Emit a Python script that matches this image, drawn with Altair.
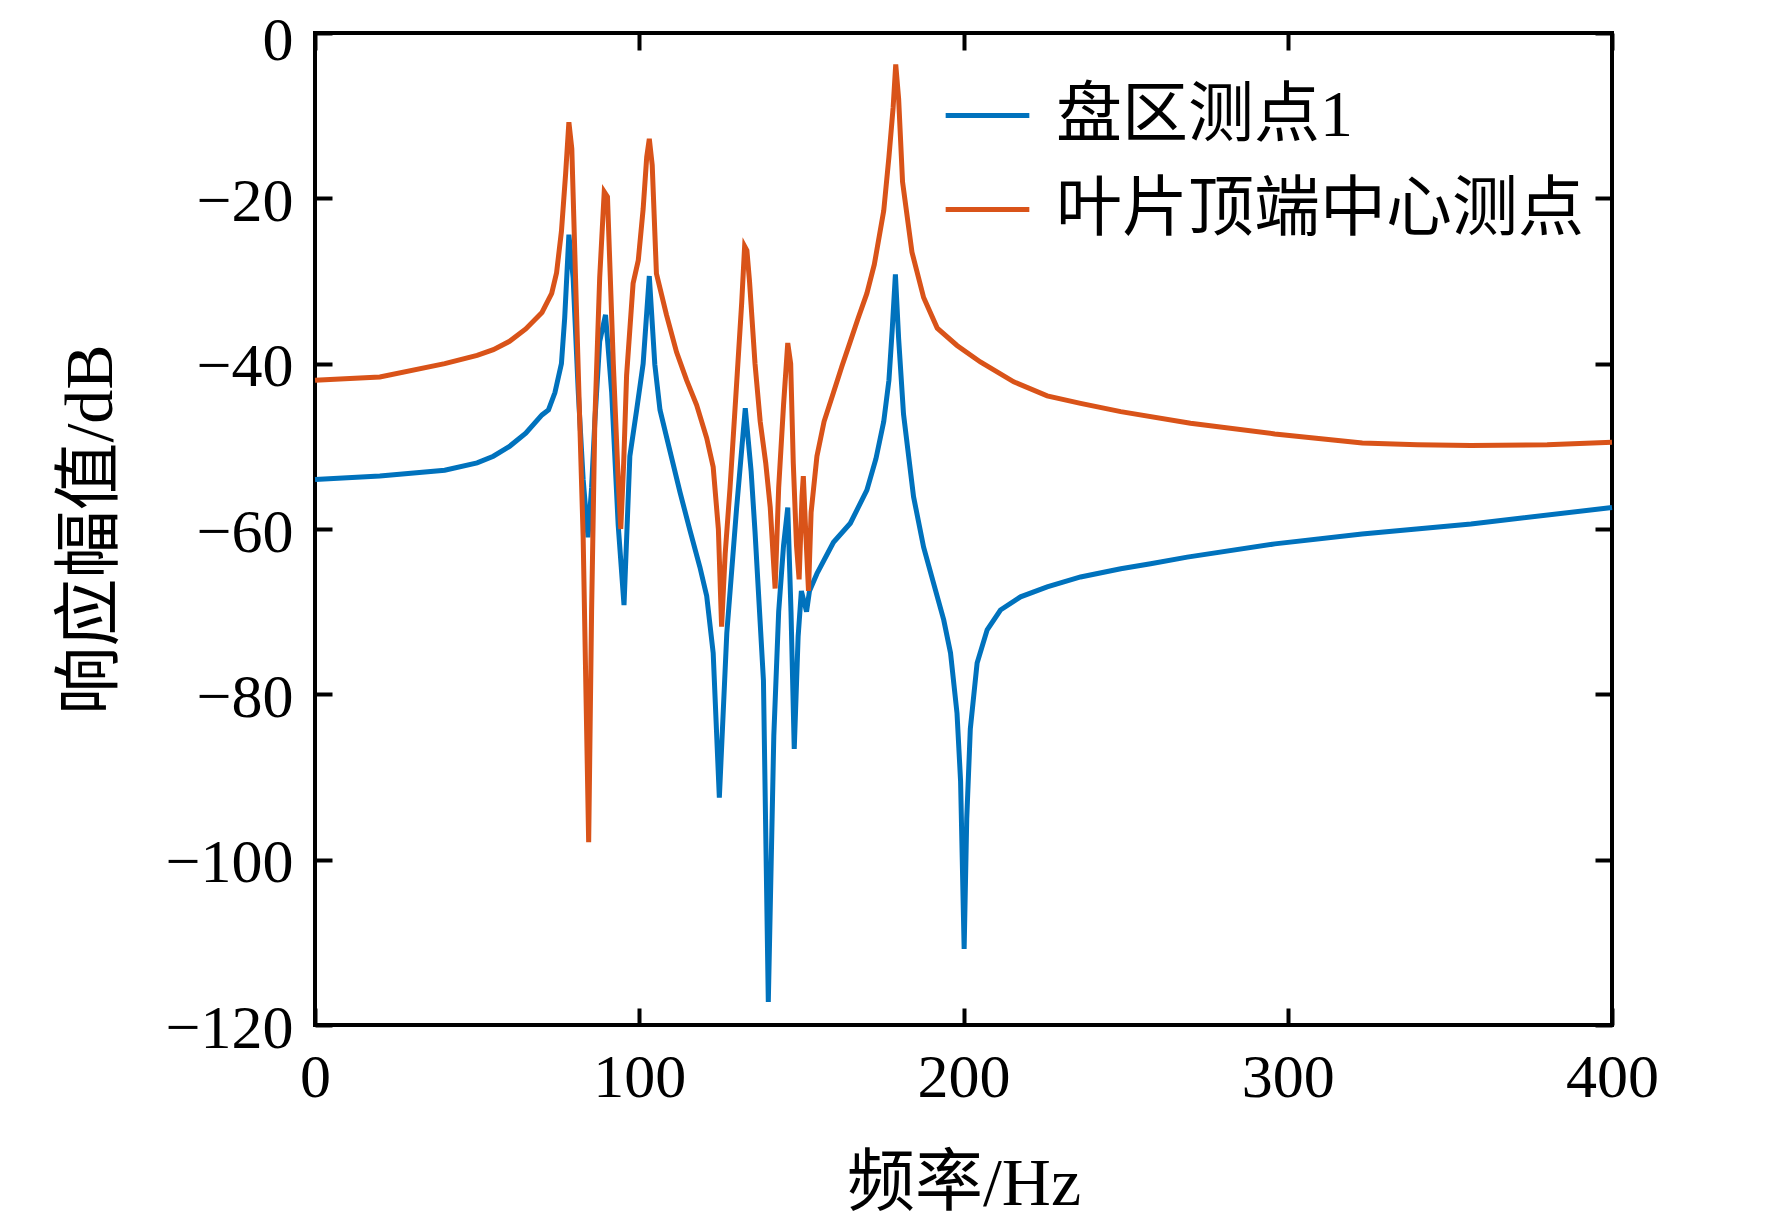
import pandas as pd
import altair as alt

FONT = "Liberation Serif, Noto Sans CJK SC"

disc_name = "盘区测点1"
tip_name = "叶片顶端中心测点"

# 叶片顶端中心测点 (orange)
tip_hz = [0, 20, 40, 50, 55, 60, 65, 70, 73, 74.5, 76, 77.3, 78.3, 79.2, 80.6,
          82.7, 84.4, 85.3, 86.3, 87.8, 89.2, 90.2, 92, 93.5, 94.3, 95.2, 96.1,
          98.1, 99.7, 101.2, 102.3, 103.1, 104, 105.3, 108.4, 111.5, 114.6,
          117.7, 120.8, 122.8, 124.4, 125.4, 126.5, 128, 130, 131.6, 132.5,
          133.2, 134, 135.7, 137.3, 139, 140.4, 141.9, 143, 144.5, 145.8, 146.7,
          147.5, 148.5, 149.3, 150.2, 150.6, 151.3, 152.2, 153, 154.8, 157,
          159.9, 162.5, 165.1, 167.5, 170.2, 172.5, 175.4, 177, 178.3, 179.1,
          180, 181.2, 184.1, 187.7, 191.9, 198, 205.2, 215.5, 225.8, 236.1,
          248.5, 270, 296, 323, 340, 356.5, 380, 400]
tip_db = [-42.0, -41.6, -40.0, -39.0, -38.3, -37.3, -35.8, -33.8, -31.5, -29.0,
          -24.0, -17.0, -10.8, -14.0, -33.0, -61.0, -97.9, -70.0, -47.0, -29.6,
          -19.2, -19.8, -40.0, -54.0, -60.0, -52.0, -41.4, -30.3, -27.5, -21.3,
          -15.0, -12.8, -16.0, -29.1, -34.1, -38.6, -42.0, -45.0, -49.0, -52.5,
          -60.0, -71.8, -63.0, -55.0, -42.6, -32.6, -25.8, -26.3, -30.0, -40.0,
          -47.0, -52.0, -57.4, -67.2, -55.0, -45.0, -37.5, -40.0, -52.0, -62.0,
          -66.1, -56.0, -53.6, -60.0, -67.5, -58.0, -51.2, -47.0, -43.5, -40.3,
          -37.3, -34.5, -31.5, -28.0, -21.5, -15.0, -9.0, -3.8, -8.0, -18.0,
          -26.5, -32.0, -35.7, -37.8, -39.8, -42.2, -43.9, -44.8, -45.8, -47.2,
          -48.5, -49.6, -49.8, -49.9, -49.8, -49.5]

# 盘区测点1 (blue)
disc_hz = [0, 20, 40, 50, 55, 60, 65, 70, 72, 74, 76, 77, 78.3, 79.6, 81.2,
           82.7, 84.2, 85.3, 86.3, 87.8, 89.6, 91.5, 93.5, 95.3, 97.1, 99.2,
           101.2, 103.1, 104.8, 106.4, 109.5, 112.6, 115.6, 118.7, 120.8, 122.8,
           124.7, 127, 130, 132.7, 134.5, 135.7, 138.3, 139.8, 141.5, 143,
           144.5, 145.8, 146.8, 147.8, 149, 150, 151.6, 152.5, 154.8, 159.9,
           165.1, 170.2, 173, 175.4, 177, 178, 179, 180, 181.5, 184.6, 187.7,
           190.8, 193.9, 196, 198, 199.1, 200.2, 201, 202.1, 204.2, 207.3, 211.4,
           217.6, 225.8, 236.1, 248.5, 257.7, 269, 296, 322.9, 356.5, 400]
disc_db = [-54.0, -53.6, -52.9, -52.0, -51.2, -50.0, -48.4, -46.2, -45.6, -43.5,
           -40.0, -34.5, -24.4, -29.6, -43.5, -54.0, -61.0, -55.0, -47.0, -37.3,
           -34.1, -43.5, -59.5, -69.2, -51.2, -45.6, -40.0, -29.4, -40.1, -45.6,
           -50.6, -55.6, -60.1, -64.6, -68.1, -75.0, -92.5, -72.6, -57.6, -45.4,
           -53.0, -60.3, -78.3, -117.2, -85.0, -70.0, -62.0, -57.4, -70.0, -86.6,
           -73.0, -67.5, -70.0, -67.5, -65.4, -61.6, -59.3, -55.3, -51.5, -47.0,
           -42.0, -36.0, -29.2, -37.0, -46.1, -56.1, -62.2, -66.6, -71.0, -75.0,
           -82.3, -90.5, -110.8, -95.0, -84.2, -76.2, -72.2, -69.8, -68.2, -67.0,
           -65.8, -64.8, -64.2, -63.4, -61.8, -60.6, -59.4, -57.4]

x_ticks = [0, 100, 200, 300, 400]
y_ticks = [0, -20, -40, -60, -80, -100, -120]

df = pd.concat([
    pd.DataFrame({"freq": disc_hz, "amp": disc_db, "series": disc_name}),
    pd.DataFrame({"freq": tip_hz, "amp": tip_db, "series": tip_name}),
])

TICK = 17
x_scale = alt.Scale(domain=[0, 400], nice=False)
y_scale = alt.Scale(domain=[-120, 0], nice=False)
color = alt.Color("series:N",
                  scale=alt.Scale(domain=[disc_name, tip_name], range=["#0072BD", "#D95319"]),
                  legend=alt.Legend(title=None, orient="none", legendX=628, legendY=38,
                                    symbolType="stroke", symbolSize=7000, symbolStrokeWidth=5,
                                    labelFontSize=66, labelFont=FONT, labelColor="black",
                                    labelLimit=800, labelOffset=24, rowPadding=16))

lines = alt.Chart(df).mark_line(strokeWidth=5).encode(
    x=alt.X("freq:Q", scale=x_scale, title="频率/Hz",
            axis=alt.Axis(values=x_ticks, format="d", offset=-TICK, domain=False,
                          tickSize=TICK, tickWidth=4, tickColor="black", grid=False,
                          labelFlush=False, labelPadding=22, titlePadding=42,
                          titleFontSize=68)),
    y=alt.Y("amp:Q", scale=y_scale, title="响应幅值/dB",
            axis=alt.Axis(values=y_ticks, format="d", offset=-TICK, domain=False,
                          tickSize=TICK, tickWidth=4, tickColor="black", grid=False,
                          labelOffset=alt.condition("datum.value == 0", alt.value(7), alt.value(3)),
                          labelPadding=22, titlePadding=40, titleFontSize=68)),
    color=color,
    order=alt.Order("freq:Q"),
)

frame = alt.Chart(df).mark_point(opacity=0).encode(
    x=alt.X("freq:Q", scale=x_scale,
            axis=alt.Axis(orient="top", values=x_ticks, labels=False, title=None,
                          offset=-TICK, domain=False, tickSize=TICK, tickWidth=4,
                          tickColor="black", grid=False)),
    y=alt.Y("amp:Q", scale=y_scale,
            axis=alt.Axis(orient="right", values=y_ticks, labels=False, title=None,
                          offset=-TICK, domain=False, tickSize=TICK, tickWidth=4,
                          tickColor="black", grid=False)),
)

chart = alt.layer(lines, frame).resolve_axis(x="independent", y="independent").properties(
    width=1297, height=992,
    autosize=alt.AutoSizeParams(type="none"),
    padding={"left": 307, "top": 25, "right": 150, "bottom": 200},
).configure_view(
    stroke="black", strokeWidth=4
).configure_axis(
    labelFont=FONT, titleFont=FONT, labelFontSize=62,
    labelColor="black", titleColor="black", titleFontWeight="normal"
)

chart.save("out.html", embed_options={"renderer": "svg", "actions": False})
